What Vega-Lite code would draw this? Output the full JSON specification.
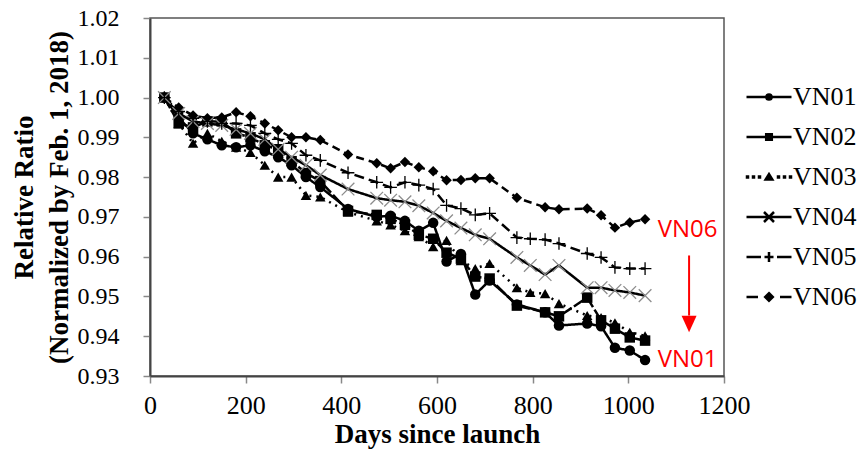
{
  "$schema": "https://vega.github.io/schema/vega-lite/v6.json",
  "autosize": "none",
  "width": 574,
  "height": 358,
  "padding": {"left": 150, "top": 18, "right": 139, "bottom": 81},
  "background": "white",
  "config": {
    "view": {"stroke": "#555555", "strokeWidth": 1.5},
    "axis": {
      "labelFont": "Liberation Serif", "labelColor": "black",
      "tickColor": "#888888", "tickSize": 7, "tickWidth": 1.5,
      "domainColor": "#444444", "domainWidth": 2, "grid": false,
      "titleFont": "Liberation Serif", "titleFontWeight": "bold", "titleColor": "black", "titleFontSize": 27
    },
    "legend": {"symbolStrokeWidth": 2.5, "symbolStrokeColor": "black"}
  },
  "datasets": {
    "main": [
      {"s":"VN01","d":30,"v":1.000},{"s":"VN01","d":60,"v":0.995},{"s":"VN01","d":90,"v":0.991},{"s":"VN01","d":120,"v":0.9895},{"s":"VN01","d":150,"v":0.988},{"s":"VN01","d":180,"v":0.9875},{"s":"VN01","d":210,"v":0.988},{"s":"VN01","d":240,"v":0.9865},{"s":"VN01","d":268,"v":0.985},{"s":"VN01","d":296,"v":0.983},{"s":"VN01","d":326,"v":0.980},{"s":"VN01","d":356,"v":0.9775},{"s":"VN01","d":414,"v":0.972},{"s":"VN01","d":474,"v":0.970},{"s":"VN01","d":503,"v":0.9703},{"s":"VN01","d":533,"v":0.969},{"s":"VN01","d":562,"v":0.9665},{"s":"VN01","d":592,"v":0.9685},{"s":"VN01","d":620,"v":0.9588},{"s":"VN01","d":650,"v":0.9607},{"s":"VN01","d":680,"v":0.9505},{"s":"VN01","d":710,"v":0.954},{"s":"VN01","d":767,"v":0.948},{"s":"VN01","d":826,"v":0.946},{"s":"VN01","d":855,"v":0.9427},{"s":"VN01","d":914,"v":0.9432},{"s":"VN01","d":943,"v":0.9425},{"s":"VN01","d":972,"v":0.9371},{"s":"VN01","d":1003,"v":0.9364},{"s":"VN01","d":1035,"v":0.934},
      {"s":"VN02","d":30,"v":1.000},{"s":"VN02","d":60,"v":0.9935},{"s":"VN02","d":90,"v":0.9925},{"s":"VN02","d":120,"v":0.994},{"s":"VN02","d":150,"v":0.994},{"s":"VN02","d":180,"v":0.991},{"s":"VN02","d":210,"v":0.990},{"s":"VN02","d":240,"v":0.988},{"s":"VN02","d":268,"v":0.987},{"s":"VN02","d":296,"v":0.984},{"s":"VN02","d":326,"v":0.981},{"s":"VN02","d":356,"v":0.979},{"s":"VN02","d":414,"v":0.9715},{"s":"VN02","d":474,"v":0.9705},{"s":"VN02","d":503,"v":0.9695},{"s":"VN02","d":533,"v":0.968},{"s":"VN02","d":562,"v":0.9655},{"s":"VN02","d":592,"v":0.9645},{"s":"VN02","d":620,"v":0.961},{"s":"VN02","d":650,"v":0.9595},{"s":"VN02","d":680,"v":0.955},{"s":"VN02","d":710,"v":0.9545},{"s":"VN02","d":767,"v":0.9477},{"s":"VN02","d":826,"v":0.946},{"s":"VN02","d":855,"v":0.945},{"s":"VN02","d":914,"v":0.9497},{"s":"VN02","d":943,"v":0.944},{"s":"VN02","d":972,"v":0.9419},{"s":"VN02","d":1003,"v":0.9397},{"s":"VN02","d":1035,"v":0.9389},
      {"s":"VN03","d":30,"v":1.000},{"s":"VN03","d":60,"v":0.9935},{"s":"VN03","d":90,"v":0.9885},{"s":"VN03","d":120,"v":0.991},{"s":"VN03","d":150,"v":0.989},{"s":"VN03","d":180,"v":0.9875},{"s":"VN03","d":210,"v":0.9862},{"s":"VN03","d":240,"v":0.983},{"s":"VN03","d":268,"v":0.980},{"s":"VN03","d":296,"v":0.980},{"s":"VN03","d":326,"v":0.9754},{"s":"VN03","d":356,"v":0.975},{"s":"VN03","d":414,"v":0.9712},{"s":"VN03","d":474,"v":0.969},{"s":"VN03","d":503,"v":0.968},{"s":"VN03","d":533,"v":0.9665},{"s":"VN03","d":562,"v":0.965},{"s":"VN03","d":592,"v":0.9625},{"s":"VN03","d":620,"v":0.9641},{"s":"VN03","d":650,"v":0.959},{"s":"VN03","d":680,"v":0.957},{"s":"VN03","d":710,"v":0.9583},{"s":"VN03","d":767,"v":0.9522},{"s":"VN03","d":795,"v":0.951},{"s":"VN03","d":826,"v":0.9507},{"s":"VN03","d":855,"v":0.9482},{"s":"VN03","d":914,"v":0.9452},{"s":"VN03","d":943,"v":0.9447},{"s":"VN03","d":972,"v":0.9434},{"s":"VN03","d":1003,"v":0.941},{"s":"VN03","d":1035,"v":0.9401},
      {"s":"VN04","d":30,"v":1.000},{"s":"VN04","d":60,"v":0.996},{"s":"VN04","d":90,"v":0.994},{"s":"VN04","d":120,"v":0.9935},{"s":"VN04","d":150,"v":0.993},{"s":"VN04","d":180,"v":0.992},{"s":"VN04","d":210,"v":0.991},{"s":"VN04","d":240,"v":0.9895},{"s":"VN04","d":268,"v":0.987},{"s":"VN04","d":296,"v":0.985},{"s":"VN04","d":326,"v":0.983},{"s":"VN04","d":356,"v":0.9805},{"s":"VN04","d":414,"v":0.977},{"s":"VN04","d":474,"v":0.9747},{"s":"VN04","d":503,"v":0.9742},{"s":"VN04","d":533,"v":0.9738},{"s":"VN04","d":562,"v":0.9728},{"s":"VN04","d":592,"v":0.971},{"s":"VN04","d":620,"v":0.969},{"s":"VN04","d":650,"v":0.9672},{"s":"VN04","d":680,"v":0.9655},{"s":"VN04","d":710,"v":0.9645},{"s":"VN04","d":767,"v":0.9598},{"s":"VN04","d":795,"v":0.9578},{"s":"VN04","d":826,"v":0.9555},{"s":"VN04","d":855,"v":0.9578},{"s":"VN04","d":914,"v":0.9522},{"s":"VN04","d":943,"v":0.9522},{"s":"VN04","d":972,"v":0.9515},{"s":"VN04","d":1003,"v":0.951},{"s":"VN04","d":1035,"v":0.9502},
      {"s":"VN05","d":30,"v":1.000},{"s":"VN05","d":60,"v":0.9965},{"s":"VN05","d":90,"v":0.9948},{"s":"VN05","d":120,"v":0.994},{"s":"VN05","d":150,"v":0.9935},{"s":"VN05","d":180,"v":0.9935},{"s":"VN05","d":210,"v":0.993},{"s":"VN05","d":240,"v":0.991},{"s":"VN05","d":268,"v":0.9895},{"s":"VN05","d":296,"v":0.9885},{"s":"VN05","d":326,"v":0.9855},{"s":"VN05","d":356,"v":0.9842},{"s":"VN05","d":414,"v":0.9811},{"s":"VN05","d":474,"v":0.9787},{"s":"VN05","d":503,"v":0.9774},{"s":"VN05","d":533,"v":0.9787},{"s":"VN05","d":562,"v":0.978},{"s":"VN05","d":592,"v":0.977},{"s":"VN05","d":620,"v":0.9729},{"s":"VN05","d":650,"v":0.9721},{"s":"VN05","d":680,"v":0.9705},{"s":"VN05","d":710,"v":0.9709},{"s":"VN05","d":767,"v":0.9648},{"s":"VN05","d":795,"v":0.9645},{"s":"VN05","d":826,"v":0.9643},{"s":"VN05","d":855,"v":0.9633},{"s":"VN05","d":914,"v":0.9608},{"s":"VN05","d":943,"v":0.9598},{"s":"VN05","d":972,"v":0.9573},{"s":"VN05","d":1003,"v":0.957},{"s":"VN05","d":1035,"v":0.957},
      {"s":"VN06","d":30,"v":1.000},{"s":"VN06","d":60,"v":0.9975},{"s":"VN06","d":90,"v":0.9955},{"s":"VN06","d":120,"v":0.9948},{"s":"VN06","d":150,"v":0.995},{"s":"VN06","d":180,"v":0.9963},{"s":"VN06","d":210,"v":0.9953},{"s":"VN06","d":240,"v":0.9935},{"s":"VN06","d":268,"v":0.9918},{"s":"VN06","d":296,"v":0.990},{"s":"VN06","d":326,"v":0.990},{"s":"VN06","d":356,"v":0.9893},{"s":"VN06","d":414,"v":0.9857},{"s":"VN06","d":474,"v":0.9835},{"s":"VN06","d":503,"v":0.9822},{"s":"VN06","d":533,"v":0.9838},{"s":"VN06","d":562,"v":0.9825},{"s":"VN06","d":592,"v":0.9815},{"s":"VN06","d":620,"v":0.9792},{"s":"VN06","d":650,"v":0.9793},{"s":"VN06","d":680,"v":0.9797},{"s":"VN06","d":710,"v":0.9797},{"s":"VN06","d":767,"v":0.9748},{"s":"VN06","d":826,"v":0.9724},{"s":"VN06","d":855,"v":0.9719},{"s":"VN06","d":914,"v":0.9721},{"s":"VN06","d":943,"v":0.9704},{"s":"VN06","d":972,"v":0.9673},{"s":"VN06","d":1003,"v":0.9686},{"s":"VN06","d":1035,"v":0.9694}
    ],
    "notes": [
      {"label": "VN06", "d": 1124, "v": 0.9649},
      {"label": "VN01", "d": 1124, "v": 0.9322}
    ],
    "arrow": [
      {"d": 1127, "v": 0.9603, "v2": 0.9452, "tip": 0.9431}
    ],
    "ref": [{"v": 1.0}]
  },
  "encoding": {
    "x": {
      "field": "d", "type": "quantitative",
      "scale": {"domain": [0, 1200], "nice": false, "zero": false},
      "axis": {"values": [0, 200, 400, 600, 800, 1000, 1200], "format": "d", "title": "Days since launch", "labelFontSize": 26, "labelPadding": 9, "titlePadding": 3, "labelFlush": false}
    },
    "y": {
      "field": "v", "type": "quantitative",
      "scale": {"domain": [0.93, 1.02], "nice": false, "zero": false},
      "axis": {"values": [0.93, 0.94, 0.95, 0.96, 0.97, 0.98, 0.99, 1.0, 1.01, 1.02], "format": ".2f", "title": ["Relative Ratio", "(Normalized by Feb. 1, 2018)"], "titleLineHeight": 35, "labelFontSize": 24, "labelPadding": 24, "titlePadding": 4, "labelFlush": false}
    }
  },
  "layer": [
    {
      "data": {"name": "ref"},
      "mark": {"type": "rule", "color": "black", "strokeWidth": 1.5, "strokeDash": [6, 4]},
      "encoding": {"y": {"field": "v", "type": "quantitative"}}
    },
    {
      "data": {"name": "main"},
      "mark": {"type": "line", "color": "black", "strokeWidth": 2.5},
      "encoding": {
        "detail": {"field": "s"},
        "strokeDash": {"field": "s", "type": "nominal", "legend": null,
          "scale": {"domain": ["VN01","VN02","VN03","VN04","VN05","VN06"], "range": [[1,0],[12,3],[2,5],[1,0],[10,5],[8,5]]}}
      }
    },
    {
      "data": {"name": "main"},
      "transform": [{"filter": {"field": "s", "oneOf": ["VN01","VN02","VN03","VN06"]}}],
      "mark": {"type": "point", "filled": true, "color": "black", "opacity": 1},
      "encoding": {
        "shape": {"field": "s", "type": "nominal", "legend": null,
          "scale": {"domain": ["VN01","VN02","VN03","VN06"], "range": ["circle","square","triangle-up","diamond"]}},
        "size": {"field": "s", "type": "nominal", "legend": null,
          "scale": {"domain": ["VN01","VN02","VN03","VN06"], "range": [110, 110, 110, 120]}}
      }
    },
    {
      "data": {"name": "main"},
      "transform": [{"filter": {"field": "s", "oneOf": ["VN04","VN05"]}}],
      "mark": {"type": "point", "filled": false, "strokeWidth": 1.3, "opacity": 1, "size": 160},
      "encoding": {
        "shape": {"field": "s", "type": "nominal", "legend": null,
          "scale": {"domain": ["VN04","VN05"], "range": ["M-1,-1L1,1M-1,1L1,-1", "M-1,0H1M0,-1V1"]}},
        "color": {"field": "s", "type": "nominal", "legend": null,
          "scale": {"domain": ["VN04","VN05"], "range": ["#8c8c8c", "#000000"]}}
      }
    },
    {
      "data": {"name": "main"},
      "transform": [{"filter": "datum.s == 'none'"}],
      "mark": {"type": "point", "filled": false, "color": "black", "strokeWidth": 2.5, "opacity": 1, "size": 400},
      "encoding": {
        "shape": {"field": "s", "type": "nominal",
          "scale": {"domain": ["VN01","VN02","VN03","VN04","VN05","VN06"], "range": [
            "M-2.25,0H2.25M-0.26,0A0.26,0.26,0,1,1,0.26,0A0.26,0.26,0,1,1,-0.26,0ZM-0.1,0A0.1,0.1,0,1,1,0.1,0A0.1,0.1,0,1,1,-0.1,0Z",
            "M-2.25,0H2.25M-0.28,-0.28H0.28V0.28H-0.28ZM-0.1,-0.1H0.1V0.1H-0.1Z",
            "M-2.2,-0.05h0.1v0.1h-0.1zM-1.6,-0.05h0.1v0.1h-0.1zM-1.0,-0.05h0.1v0.1h-0.1zM0.9,-0.05h0.1v0.1h-0.1zM1.5,-0.05h0.1v0.1h-0.1zM2.1,-0.05h0.1v0.1h-0.1zM-0.33,0.25L0,-0.28L0.33,0.25ZM-0.12,0.12L0,-0.08L0.12,0.12Z",
            "M-2.25,0H2.25M-0.5,-0.5L0.5,0.5M-0.5,0.5L0.5,-0.5",
            "M-2.25,0H-0.8M0.8,0H2.25M-0.45,0H0.45M0,-0.5V0.5",
            "M-2.25,0H-1.1M1.1,0H2.25M0,-0.38L0.38,0L0,0.38L-0.38,0ZM0,-0.12L0.12,0L0,0.12L-0.12,0Z"
          ]},
          "legend": {
            "orient": "none", "legendX": 606, "legendY": 66, "title": null,
            "labelFont": "Liberation Serif", "labelFontSize": 26, "labelColor": "black",
            "labelOffset": 11, "rowPadding": 14, "padding": 0,
            "symbolSize": 400, "symbolStrokeWidth": 2.5, "symbolStrokeColor": "black"
          }
        }
      }
    },
    {
      "data": {"name": "notes"},
      "mark": {"type": "text", "color": "#ff0000", "font": "Open Sans", "fontSize": 24, "align": "center", "baseline": "alphabetic"},
      "encoding": {"text": {"field": "label"}}
    },
    {
      "data": {"name": "arrow"},
      "mark": {"type": "rule", "color": "#ff0000", "strokeWidth": 2},
      "encoding": {"y2": {"field": "v2"}}
    },
    {
      "data": {"name": "arrow"},
      "mark": {"type": "point", "filled": true, "color": "#ff0000", "opacity": 1, "size": 225, "shape": "M-1,-1.1L1,-1.1L0,1.1Z"},
      "encoding": {"y": {"field": "tip", "type": "quantitative"}}
    }
  ],
  "resolve": {"scale": {"shape": "independent", "size": "independent", "color": "independent", "strokeDash": "independent"}}
}
